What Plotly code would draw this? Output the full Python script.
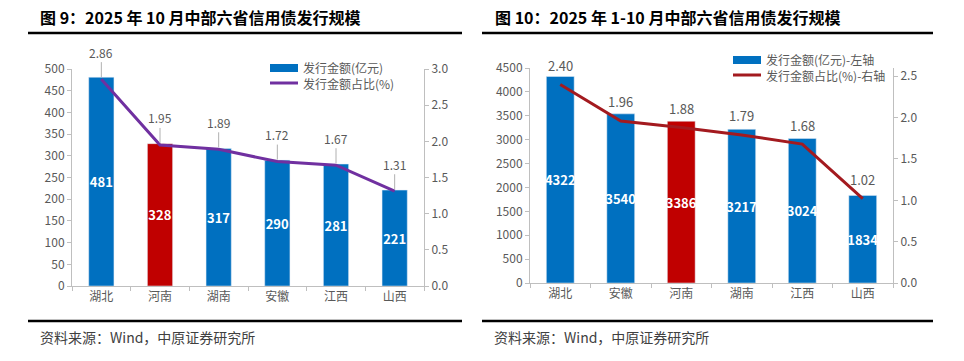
import plotly.graph_objects as go

W, H = 964, 361

# ---------- data ----------
left_title = "图 9：2025 年 10 月中部六省信用债发行规模"
left_cats = ["湖北", "河南", "湖南", "安徽", "江西", "山西"]
left_amount = [481, 328, 317, 290, 281, 221]
left_share = [2.86, 1.95, 1.89, 1.72, 1.67, 1.31]
left_names = ["发行金额(亿元)", "发行金额占比(%)"]

right_title = "图 10：2025 年 1-10 月中部六省信用债发行规模"
right_cats = ["湖北", "安徽", "河南", "湖南", "江西", "山西"]
right_amount = [4322, 3540, 3386, 3217, 3024, 1834]
right_share = [2.40, 1.96, 1.88, 1.79, 1.68, 1.02]
right_names = ["发行金额(亿元)-左轴", "发行金额占比(%)-右轴"]

source_text = "资料来源：Wind，中原证券研究所"
highlight = "河南"

# ---------- styles ----------
BLUE = "#0070C0"
RED = "#C00000"
PURPLE = "#7030A0"
DARKRED = "#A31A1F"
GRAY = "#595959"
AXIS = "#BFBFBF"
FONT = "Noto Sans CJK SC"


def px_x(p):
    return p / W


def px_y(p):
    return 1 - p / H


fig = go.Figure()

fig.add_trace(go.Bar(
    x=left_cats, y=left_amount, name=left_names[0],
    marker_color=[RED if c == highlight else BLUE for c in left_cats],
    width=0.43, text=[str(v) for v in left_amount], textposition="inside",
    insidetextanchor="middle", textangle=0, constraintext="none",
    textfont=dict(color="white", size=13, family=FONT, weight="bold"),
    xaxis="x", yaxis="y", showlegend=False,
))
fig.add_trace(go.Scatter(
    x=left_cats, y=left_share, name=left_names[1], mode="lines",
    line=dict(color=PURPLE, width=3), xaxis="x", yaxis="y2", showlegend=False,
))
fig.add_trace(go.Bar(
    x=right_cats, y=right_amount, name=right_names[0],
    marker_color=[RED if c == highlight else BLUE for c in right_cats],
    width=0.46, text=[str(v) for v in right_amount], textposition="inside",
    insidetextanchor="middle", textangle=0, constraintext="none",
    textfont=dict(color="white", size=13, family=FONT, weight="bold"),
    xaxis="x2", yaxis="y3", showlegend=False,
))
fig.add_trace(go.Scatter(
    x=right_cats, y=right_share, name=right_names[1], mode="lines",
    line=dict(color=DARKRED, width=3), xaxis="x2", yaxis="y4", showlegend=False,
))

tickfont = dict(family=FONT, size=12, color=GRAY)
common_x = dict(type="category", showline=True, linecolor=AXIS, ticks="outside",
                tickson="boundaries", ticklen=4, tickcolor=AXIS, tickfont=tickfont,
                showgrid=False, zeroline=False, automargin=False)
common_y = dict(showline=True, linecolor=AXIS, ticks="outside", ticklen=4,
                tickcolor=AXIS, tickfont=tickfont, showgrid=False, zeroline=False,
                automargin=False)

ydomL = [px_y(286), px_y(69)]
ydomR = [px_y(283), px_y(68)]

fig.update_layout(
    width=W, height=H, margin=dict(l=0, r=0, t=0, b=0, autoexpand=False),
    paper_bgcolor="white", plot_bgcolor="white",
    font=dict(family=FONT, color=GRAY),
    showlegend=False,
    xaxis=dict(domain=[px_x(72), px_x(424)], anchor="y", **common_x),
    yaxis=dict(domain=ydomL, anchor="x", range=[0, 500], dtick=50, **common_y),
    yaxis2=dict(overlaying="y", side="right", anchor="x", range=[0, 3.0], dtick=0.5,
                tickformat=".1f", **common_y),
    xaxis2=dict(domain=[px_x(530), px_x(893)], anchor="y3", **common_x),
    yaxis3=dict(domain=ydomR, anchor="x2", range=[0, 4500], dtick=500, **common_y),
    yaxis4=dict(overlaying="y3", side="right", anchor="x2", range=[0, 2.6], dtick=0.5,
                tickformat=".1f", **common_y),
)

annotations = []
shapes = []

# line value labels, left chart (with leader lines)
for c, v in zip(left_cats, left_share):
    annotations.append(dict(
        x=c, y=v, xref="x", yref="y2", text=f"{v:.2f}", showarrow=True,
        arrowhead=0, arrowwidth=1, arrowcolor="#B0B0B0", ax=0, ay=-27,
        font=dict(family=FONT, size=12, color=GRAY), standoff=2,
    ))
# line value labels, right chart
for c, v in zip(right_cats, right_share):
    annotations.append(dict(
        x=c, y=v, xref="x2", yref="y4", text=f"{v:.2f}", showarrow=False,
        yshift=19, font=dict(family=FONT, size=13, color=GRAY),
    ))

# legends (swatch + text)
legend_specs = [
    (270, 68, left_names, BLUE, PURPLE),
    (733, 60, right_names, BLUE, DARKRED),
]
for x0, y0, names, bar_c, line_c in legend_specs:
    shapes.append(dict(type="rect", xref="paper", yref="paper",
                       x0=px_x(x0), x1=px_x(x0 + 28), y0=px_y(y0 + 4), y1=px_y(y0 - 4),
                       fillcolor=bar_c, line=dict(width=0)))
    shapes.append(dict(type="line", xref="paper", yref="paper",
                       x0=px_x(x0), x1=px_x(x0 + 28), y0=px_y(y0 + 15), y1=px_y(y0 + 15),
                       line=dict(color=line_c, width=3)))
    for i, nm in enumerate(names):
        annotations.append(dict(x=px_x(x0 + 31), y=px_y(y0 + 15 * i), xref="paper",
                                yref="paper", text=nm, showarrow=False, xanchor="left",
                                yanchor="middle",
                                font=dict(family=FONT, size=12, color=GRAY)))

# titles
for xs, t in ((38, left_title), (493, right_title)):
    annotations.append(dict(x=px_x(xs), y=px_y(17), xref="paper", yref="paper",
                            text=f"<b>{t}</b>", showarrow=False, xanchor="left",
                            yanchor="middle", font=dict(family=FONT, size=16, color="black")))
# sources
for xs in (38, 492):
    annotations.append(dict(x=px_x(xs), y=px_y(337), xref="paper", yref="paper",
                            text=source_text, showarrow=False, xanchor="left",
                            yanchor="middle", font=dict(family=FONT, size=14, color="#404040")))

for x0, x1 in ((28, 462), (482, 933)):
    for yy in (33, 321):
        shapes.append(dict(type="line", xref="paper", yref="paper",
                           x0=px_x(x0), x1=px_x(x1), y0=px_y(yy), y1=px_y(yy),
                           line=dict(color="black", width=2.5)))

fig.update_layout(annotations=annotations, shapes=shapes)

fig.write_html(
    "out.html",
    config={"displayModeBar": False},
    post_script="document.body.style.margin='0';document.body.style.overflow='hidden';",
)
